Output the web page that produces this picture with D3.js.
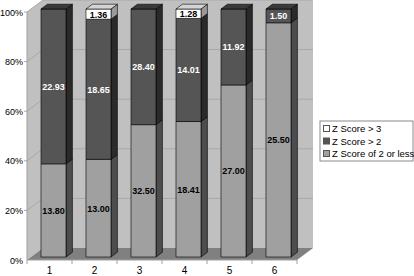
<!DOCTYPE html>
<html>
<head>
<meta charset="utf-8">
<script src="https://cdn.jsdelivr.net/npm/d3@7"></script>
<style>
  body { margin: 0; background: #fff; }
  text { font-family: Arial, "Liberation Sans", sans-serif; }
</style>
</head>
<body>
<div id="chart"></div>
<script>
// data
const categories = ["1", "2", "3", "4", "5", "6"];
const lowScore  = [13.80, 13.00, 32.50, 18.41, 27.00, 25.50];   // Z Score of 2 or less
const midScore  = [22.93, 18.65, 28.40, 14.01, 11.92, 1.50];    // Z Score > 2
const highScore = [0, 1.36, 0, 1.28, 0, 0];                      // Z Score > 3
const seriesNames = ["Z Score of 2 or less", "Z Score > 2", "Z Score > 3"];
const yTicks = [0, 0.2, 0.4, 0.6, 0.8, 1];

const W = 414, H = 276;
const depth = {dx: 16, dy: -12};       // 3d depth of the walls
const barZ = [0.25, 0.65];             // bar front / back depth fraction

const svg = d3.select("#chart").append("svg")
  .attr("width", W).attr("height", H);

const x = d3.scaleBand()
  .domain(categories)
  .range([27, 297])
  .paddingInner(0.444)
  .paddingOuter(0.222);

const y = d3.scaleLinear().domain([0, 1]).range([260, 12]);

// project a point at depth z (0 front, 1 back)
function P(px, py, z) { return [px + depth.dx * z, py + depth.dy * z]; }
function poly(pts) { return "M" + pts.map(p => p.join(",")).join("L") + "Z"; }

const x0 = x.range()[0], x1 = x.range()[1];

// walls
svg.append("path")
  .attr("d", poly([P(x0, y(0), 1), P(x0, y(1), 1), P(x1, y(1), 1), P(x1, y(0), 1)]))
  .attr("fill", "#c0c0c0");
svg.append("path")
  .attr("d", poly([P(x0, y(0), 0), P(x0, y(1), 0), P(x0, y(1), 1), P(x0, y(0), 1)]))
  .attr("fill", "#c0c0c0");

// gridlines on left and back wall
yTicks.forEach(t => {
  const a = P(x0, y(t), 0), b = P(x0, y(t), 1), c = P(x1, y(t), 1);
  svg.append("path")
    .attr("d", `M${a[0] - 3},${a[1]}L${a[0]},${a[1]}L${b[0]},${b[1]}L${c[0]},${c[1]}`)
    .attr("fill", "none")
    .attr("stroke", t === 0 ? "none" : "#a8a8a8")
    .attr("stroke-width", 1);
});

// floor
svg.append("path")
  .attr("d", poly([P(x0, y(0), 0), P(x0, y(0), 1), P(x1, y(0), 1), P(x1, y(0), 0)]))
  .attr("fill", "#808080");

// axes lines
svg.append("line")
  .attr("x1", x0).attr("x2", x0).attr("y1", y(1)).attr("y2", y(0))
  .attr("stroke", "#a0a0a0");
svg.append("line")
  .attr("x1", x0).attr("x2", x1).attr("y1", y(0)).attr("y2", y(0))
  .attr("stroke", "#a0a0a0");
d3.range(categories.length + 1).forEach(i => {
  const tx = x0 + i * x.step();
  svg.append("line")
    .attr("x1", tx).attr("x2", tx).attr("y1", y(0)).attr("y2", y(0) + 4)
    .attr("stroke", "#a0a0a0");
});

// y labels
svg.selectAll(".ylab").data(yTicks).join("text")
  .attr("class", "ylab")
  .attr("x", 23).attr("y", d => y(d) + 3.5)
  .attr("text-anchor", "end")
  .attr("font-size", 9)
  .attr("fill", "#000")
  .text(d => Math.round(d * 100) + "%");

// x labels
svg.selectAll(".xlab").data(categories).join("text")
  .attr("class", "xlab")
  .attr("x", d => x(d) + x.bandwidth() / 2)
  .attr("y", 274)
  .attr("text-anchor", "middle")
  .attr("font-size", 10)
  .text(d => d);

// stacked 100% bars
const table = categories.map((c, i) => ({
  cat: c,
  "Z Score of 2 or less": lowScore[i],
  "Z Score > 2": midScore[i],
  "Z Score > 3": highScore[i]
}));
const stacked = d3.stack().keys(seriesNames).offset(d3.stackOffsetExpand)(table);

const colors = {
  "Z Score of 2 or less": {front: "#a0a0a0", side: "#4d4d4d", top: "#c8c8c8", text: "#000"},
  "Z Score > 2": {front: "#555555", side: "#2a2a2a", top: "#3a3a3a", text: "#fff"},
  "Z Score > 3": {front: "#ffffff", side: "#9a9a9a", top: "#d4d4d4", text: "#000"}
};

const [zf, zb] = barZ;
categories.forEach((c, i) => {
  const segs = stacked.map(s => ({key: s.key, y0: s[i][0], y1: s[i][1], v: s[i].data[s.key]}))
    .filter(s => s.v > 0);
  const bl = x(c), br = x(c) + x.bandwidth();
  const g = svg.append("g");
  segs.forEach((s, j) => {
    const col = colors[s.key];
    const yb = y(s.y0), yt = y(s.y1);
    // side face
    g.append("path")
      .attr("d", poly([P(br, yb, zf), P(br, yb, zb), P(br, yt, zb), P(br, yt, zf)]))
      .attr("fill", col.side).attr("stroke", "#000").attr("stroke-width", 0.6);
    // front face
    g.append("path")
      .attr("d", poly([P(bl, yb, zf), P(bl, yt, zf), P(br, yt, zf), P(br, yb, zf)]))
      .attr("fill", col.front).attr("stroke", "#000").attr("stroke-width", 0.6);
    if (j === segs.length - 1) {
      g.append("path")
        .attr("d", poly([P(bl, yt, zf), P(bl, yt, zb), P(br, yt, zb), P(br, yt, zf)]))
        .attr("fill", col.top).attr("stroke", "#000").attr("stroke-width", 0.6);
    }
    const c0 = P((bl + br) / 2, (yb + yt) / 2, zf);
    g.append("text")
      .attr("x", c0[0]).attr("y", c0[1] + 3.5)
      .attr("text-anchor", "middle")
      .attr("font-size", 9).attr("font-weight", "bold")
      .attr("fill", col.text)
      .text(s.v.toFixed(2));
  });
});

// legend
const legend = svg.append("g").attr("transform", "translate(320,121)");
legend.append("rect")
  .attr("width", 93).attr("height", 40)
  .attr("fill", "#fff").attr("stroke", "#8a8a8a");
const legendOrder = ["Z Score > 3", "Z Score > 2", "Z Score of 2 or less"];
legendOrder.forEach((k, i) => {
  legend.append("rect")
    .attr("x", 3.5).attr("y", 4.5 + i * 12.5)
    .attr("width", 6).attr("height", 6)
    .attr("fill", colors[k].front).attr("stroke", "#555");
  legend.append("text")
    .attr("x", 12).attr("y", 11 + i * 12.5)
    .attr("font-size", 9.5)
    .text(k);
});
</script>
</body>
</html>
